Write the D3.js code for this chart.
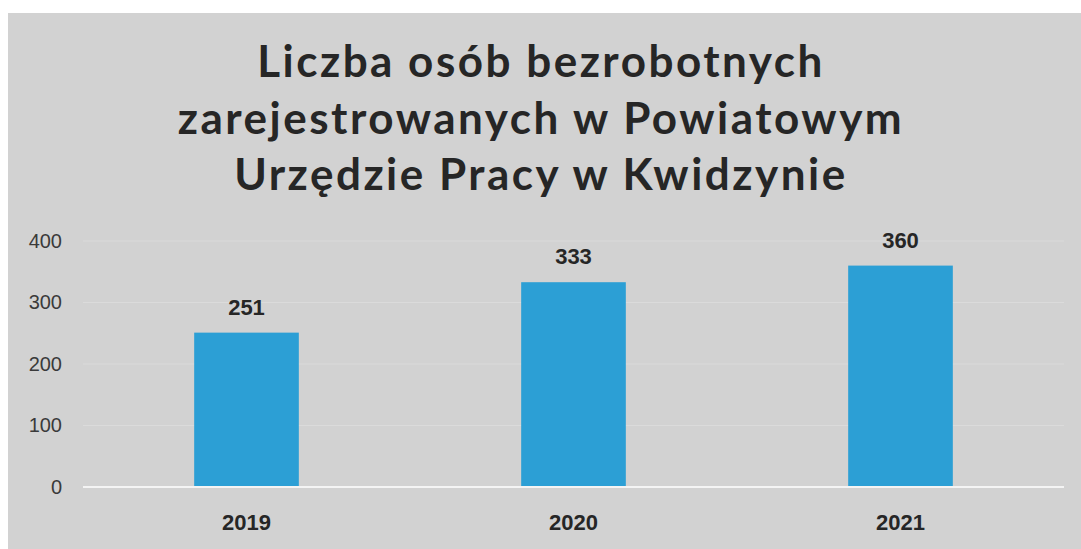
<!DOCTYPE html>
<html lang="pl">
<head>
<meta charset="utf-8">
<title>Liczba osób bezrobotnych</title>
<script src="https://d3js.org/d3.v7.min.js"></script>
<style>
    html, body { margin: 0; padding: 0; background: #ffffff; }
    svg { display: block; }
</style>
</head>
<body>
<div id="canvas"></div>
<script>
    var width = 1081;
    var height = 549;

    // data
    var years = ["2019", "2020", "2021"];
    var values = [251, 333, 360];
    var yTicks = [0, 100, 200, 300, 400];
    var titleLines = ["Liczba osób bezrobotnych",
                      "zarejestrowanych w Powiatowym",
                      "Urzędzie Pracy w Kwidzynie"];

    var svg = d3.select("#canvas")
        .append("svg")
        .attr("width", width)
        .attr("height", height);

    // scanned page background
    svg.append("rect")
        .attr("x", 8).attr("y", 13)
        .attr("width", width - 8).attr("height", height - 13)
        .style("fill", "#d2d2d2");

    var x = d3.scaleBand()
        .domain(years)
        .range([83, 1064])
        .paddingInner(0.68)
        .paddingOuter(0.34);

    var y = d3.scaleLinear()
        .domain([0, 400])
        .range([487, 241]);

    // faint gridlines
    svg.append("g")
        .selectAll("line")
        .data(yTicks.filter(d => d > 0))
        .enter()
        .append("line")
        .attr("x1", 83).attr("x2", 1064)
        .attr("y1", d => y(d)).attr("y2", d => y(d))
        .style("stroke", "#ffffff")
        .style("stroke-opacity", 0.2)
        .style("stroke-width", 1);

    // y axis labels
    var yAxis = d3.axisLeft(y).tickValues(yTicks).tickSize(0).tickPadding(0);
    var gy = svg.append("g")
        .attr("transform", "translate(62,0)")
        .call(yAxis);
    gy.select(".domain").remove();
    gy.selectAll("text")
        .style("font-family", "'Liberation Sans', Arial, sans-serif")
        .style("font-size", "20px")
        .style("fill", "#3a3a3a");

    // bars
    svg.append("g")
        .selectAll("rect")
        .data(values)
        .enter()
        .append("rect")
        .attr("x", (d, i) => x(years[i]))
        .attr("y", d => y(d))
        .attr("width", x.bandwidth())
        .attr("height", d => y(0) - y(d))
        .style("fill", "#2c9fd5");

    // baseline
    svg.append("line")
        .attr("x1", 83).attr("x2", 1064)
        .attr("y1", y(0)).attr("y2", y(0))
        .style("stroke", "#f4f4f4")
        .style("stroke-width", 2);

    // value labels
    svg.append("g")
        .selectAll("text")
        .data(values)
        .enter()
        .append("text")
        .attr("x", (d, i) => x(years[i]) + x.bandwidth() / 2)
        .attr("y", d => y(d) - 18)
        .attr("text-anchor", "middle")
        .style("font-family", "'Liberation Sans', Arial, sans-serif")
        .style("font-weight", "bold")
        .style("font-size", "22px")
        .style("fill", "#262626")
        .text(d => d);

    // x axis labels
    var xAxis = d3.axisBottom(x).tickSize(0).tickPadding(0);
    var gx = svg.append("g")
        .attr("transform", "translate(0," + (y(0) + 27) + ")")
        .call(xAxis);
    gx.select(".domain").remove();
    gx.selectAll("text")
        .style("font-family", "'Liberation Sans', Arial, sans-serif")
        .style("font-weight", "bold")
        .style("font-size", "22px")
        .style("fill", "#262626");

    // title
    svg.append("g")
        .selectAll("text")
        .data(titleLines)
        .enter()
        .append("text")
        .attr("x", 541)
        .attr("y", (d, i) => 77 + i * 56.5)
        .attr("text-anchor", "middle")
        .style("font-family", "Lato, 'Open Sans', sans-serif")
        .style("font-weight", "bold")
        .style("font-size", "44px")
        .style("fill", "#262626")
        .style("letter-spacing", "2.5px")
        .text(d => d);
</script>
</body>
</html>
